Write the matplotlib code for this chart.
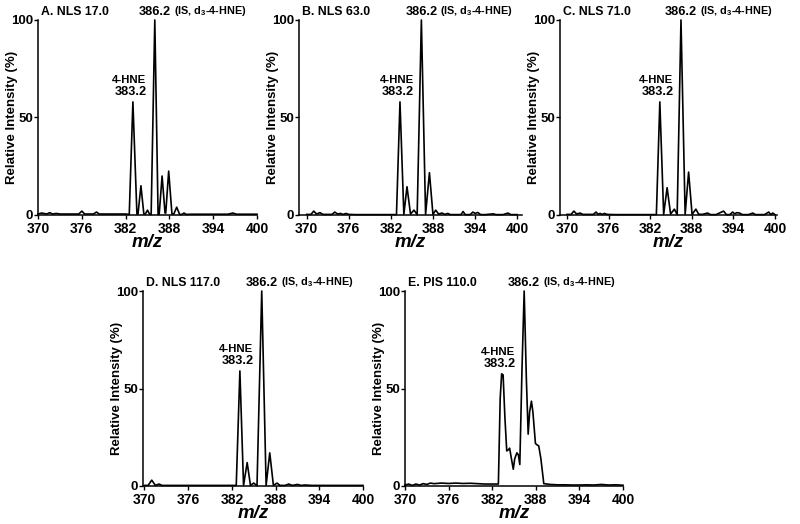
import matplotlib
matplotlib.use("Agg")
import matplotlib.pyplot as plt
import numpy as np

FONT = 'Liberation Sans'
plt.rcParams['font.family'] = [FONT, 'DejaVu Sans']
plt.rcParams['font.weight'] = 'bold'
plt.rcParams['mathtext.fontset'] = 'custom'
plt.rcParams['mathtext.rm'] = FONT + ':bold'
plt.rcParams['mathtext.it'] = FONT + ':bold:italic'
plt.rcParams['mathtext.bf'] = FONT + ':bold'

# ---------------- data ----------------
panel_titles = ["A. NLS 17.0", "B. NLS 63.0", "C. NLS 71.0", "D. NLS 117.0", "E. PIS 110.0"]
x_ticks = [370, 376, 382, 388, 394, 400]
y_ticks = [0, 50, 100]
hne_word = "4-HNE"
hne_number = "383.2"
is_number = "386.2"
is_suffix = " (IS, d$_3$-4-HNE)"
x_label = "m/z"
y_label = "Relative Intensity (%)"

A_mz = [370, 370.5, 371.2, 371.6, 372.0, 372.5, 373, 374, 375, 375.6, 376.0, 376.4, 377, 377.6,
        378.0, 378.4, 379, 380, 381, 382.0, 382.5, 383.0, 383.55, 383.7, 384.1, 384.5, 384.7,
        385.0, 385.3, 385.5, 386.0, 386.45, 386.6, 387.0, 387.4, 387.5, 387.9, 388.35, 388.6,
        389.0, 389.4, 389.7, 390.0, 390.3, 391, 392, 393, 394, 395, 396, 396.7, 397.2, 398, 399, 400]
A_int = [0.5, 1.0, 0.5, 1.2, 0.5, 0.8, 0.5, 0.5, 0.5, 0.5, 2.0, 0.5, 0.5, 0.5,
         1.5, 0.5, 0.5, 0.5, 0.5, 0.5, 0.3, 58, 0.5, 0.5, 15, 0.5, 0.5,
         2.5, 0.3, 0.3, 100, 0.3, 0.3, 20, 1.0, 1.0, 22.5, 0.5, 0.5,
         4, 0.3, 0.3, 1.0, 0.3, 0.4, 0.4, 0.4, 0.4, 0.4, 0.4, 1.0, 0.4, 0.4, 0.4, 0.4]

B_mz = [370, 370.6, 371.0, 371.4, 371.9, 372.3, 373, 373.6, 374.0, 374.4, 374.8, 375.2, 375.6, 376,
        377, 378, 379, 380, 381, 382, 382.8, 383.3, 383.85, 384.3, 384.8, 385.3, 385.75, 386.35,
        386.95, 387.5, 388.0, 388.4, 388.8, 389.3, 389.7, 390.1, 390.5, 391, 392, 392.3, 392.6,
        393.3, 393.7, 394.0, 394.4, 394.8, 395.5, 396.6, 397, 398, 398.7, 399.1, 400]
B_int = [0.3, 0.3, 2.0, 0.5, 1.2, 0.3, 0.3, 0.3, 1.5, 0.5, 0.8, 0.3, 0.8, 0.3,
         0.2, 0.2, 0.2, 0.2, 0.2, 0.2, 0.2, 58, 0.3, 14.5, 0.5, 2.5, 0.2, 100,
         0.3, 21.7, 0.3, 2.5, 0.5, 1.0, 0.3, 0.8, 0.2, 0.2, 0.2, 1.8, 0.2,
         0.2, 1.5, 0.8, 1.3, 0.2, 0.2, 0.6, 0.2, 0.2, 1.0, 0.2, 0.2]

C_mz = [370, 370.6, 371.0, 371.4, 371.9, 372.3, 373, 373.8, 374.2, 374.5, 374.8, 375.1, 375.4, 375.8,
        377, 378, 379, 380, 381, 382, 382.9, 383.4, 383.95, 384.45, 384.95, 385.5, 385.9, 386.45,
        387.05, 387.55, 388.05, 388.6, 389.0, 389.5, 390.3, 390.7, 391.5, 392.6, 393.0, 393.5,
        393.9, 394.2, 394.5, 394.9, 395.3, 396.2, 396.8, 397.2, 398.5, 399.1, 399.4, 399.7, 400]
C_int = [0.3, 0.3, 2.0, 0.5, 1.0, 0.3, 0.3, 0.3, 1.5, 0.4, 0.8, 0.3, 0.8, 0.3,
         0.2, 0.2, 0.2, 0.2, 0.2, 0.2, 0.2, 58, 0.3, 14, 0.5, 3, 0.2, 100,
         0.3, 22, 0.3, 3, 0.4, 0.3, 1.0, 0.2, 0.2, 2.0, 0.2, 0.2,
         1.5, 0.6, 1.2, 1.0, 0.2, 0.2, 1.0, 0.2, 0.2, 1.5, 0.2, 1.0, 0.2]

D_mz = [370, 370.5, 371.0, 371.5, 372.0, 372.4, 373, 374, 375, 376, 377, 378, 379, 380, 381, 382,
        382.6, 383.1, 383.6, 384.1, 384.55, 385.0, 385.45, 386.1, 386.7, 387.2, 387.7, 388.2,
        388.6, 389.3, 389.8, 390.3, 391, 391.5, 392, 393, 394, 395, 396, 397, 398, 399, 400]
D_int = [0.3, 0.3, 3.0, 0.3, 1.0, 0.3, 0.3, 0.3, 0.3, 0.3, 0.3, 0.3, 0.3, 0.3, 0.3, 0.3,
         0.3, 59, 0.3, 12, 0.3, 1.5, 0.2, 100, 0.3, 17, 0.3, 1.5,
         0.3, 0.3, 1.0, 0.3, 0.8, 0.3, 0.5, 0.3, 0.3, 0.3, 0.3, 0.3, 0.3, 0.3, 0.3]

E_mz = [370, 370.5, 371, 371.5, 372, 372.5, 373, 373.5, 374, 375, 376, 377, 378, 379, 380, 381, 382,
        382.85, 383.1, 383.3, 383.5, 383.75, 384.0, 384.2, 384.4, 384.6, 384.9, 385.1, 385.4, 385.6,
        385.8, 386.1, 386.4, 386.7, 386.95, 387.15, 387.4, 387.6, 387.95, 388.2, 388.4, 388.7,
        389.1, 390, 391, 392, 393, 394, 395, 396, 397, 398, 399, 400]
E_int = [0.5, 1.0, 0.3, 1.0, 0.5, 1.2, 0.8, 1.5, 1.2, 1.5, 1.3, 1.5, 1.3, 1.4, 1.2, 1.0, 1.0,
         1.0, 45, 57.5, 57, 35, 18, 18.5, 19.4, 15, 8.6, 14, 17, 16,
         11, 60, 100, 55, 26.6, 38, 43.5, 38, 21.8, 21, 20.6, 14,
         1.2, 0.8, 0.6, 0.6, 0.5, 0.5, 0.6, 0.5, 0.8, 0.5, 0.6, 0.4]

series = [(A_mz, A_int), (B_mz, B_int), (C_mz, C_int), (D_mz, D_int), (E_mz, E_int)]

# ---------------- layout ----------------
W, H = 800, 524
# axes boxes in pixels: left, top, right, bottom
boxes = [(38, 20, 257, 215), (299, 20, 522, 215), (560, 20, 777, 215),
         (143, 291, 363, 486), (405, 291, 623, 486)]
xlims = [(370, 400), (368.9, 400.7), (369.0, 400.3), (369.8, 400), (370, 400)]

fig = plt.figure(figsize=(W / 100, H / 100), dpi=100)

for (mz, inten), (l, t, r, b), xl, title in zip(series, boxes, xlims, panel_titles):
    ax = fig.add_axes([l / W, 1 - b / H, (r - l) / W, (b - t) / H])
    ax.plot(mz, inten, color='black', lw=1.2, clip_on=False, solid_joinstyle='round')
    ax.set_xlim(*xl)
    ax.set_ylim(0, 100)
    for s in ['top', 'right']:
        ax.spines[s].set_visible(False)
    for s in ['left', 'bottom']:
        ax.spines[s].set_linewidth(1.1)
    ax.set_xticks(x_ticks)
    ax.set_yticks(y_ticks)
    ax.tick_params(axis='x', direction='out', length=3, width=1, labelsize=10, pad=2.2)
    ax.tick_params(axis='y', direction='out', length=3, width=1, labelsize=9.5, pad=0.5)
    for lab in ax.get_xticklabels() + ax.get_yticklabels():
        lab.set_fontweight('bold')
    ax.set_xlabel(x_label, fontstyle='italic', fontweight='bold', fontsize=13.5, labelpad=-1.5)
    ax.set_ylabel(y_label, fontweight='bold', fontsize=9.5)
    ax.yaxis.set_label_coords(-20.0 / (r - l), 0.5)

    ax.annotate(title, xy=(0, 1), xycoords='axes fraction', xytext=(2, 1.5),
                textcoords='offset points', ha='left', va='bottom', fontsize=8.8, fontweight='bold')

    mz_a = np.asarray(mz)
    in_a = np.asarray(inten)
    i_is = int(np.argmax(in_a))
    mask = mz_a < mz_a[i_is] - 1.5
    i_hne = int(np.argmax(np.where(mask, in_a, -1)))

    t1 = ax.annotate(is_number, xy=(mz_a[i_is], in_a[i_is]), xytext=(0, 1.5),
                     textcoords='offset points', ha='center', va='bottom',
                     fontsize=9.2, fontweight='bold', annotation_clip=False)
    ax.annotate(is_suffix, xy=(1, 0), xycoords=t1, xytext=(0, 0), textcoords='offset points',
                ha='left', va='bottom', fontsize=7.8, fontweight='bold')
    t2 = ax.annotate(hne_number, xy=(mz_a[i_hne], in_a[i_hne]), xytext=(-1.5, 3),
                     textcoords='offset points', ha='center', va='bottom',
                     fontsize=9.2, fontweight='bold')
    ax.annotate(hne_word, xy=(0.5, 1), xycoords=t2, xytext=(-1, 0.5), textcoords='offset points',
                ha='center', va='bottom', fontsize=8.2, fontweight='bold')

fig.savefig("out.png", dpi=100)
